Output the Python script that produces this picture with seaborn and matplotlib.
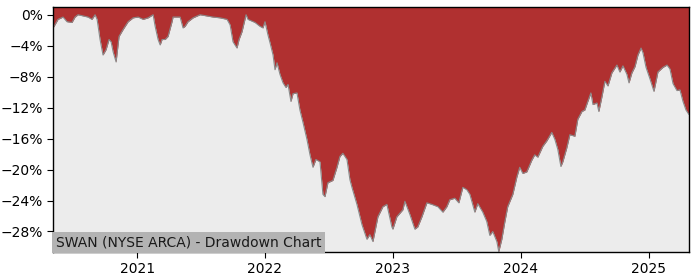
import numpy as np
import pandas as pd
import matplotlib
matplotlib.use("Agg")
import matplotlib.pyplot as plt
import matplotlib.ticker as mticker
import seaborn as sns

title = "SWAN (NYSE ARCA) - Drawdown Chart"

# decimal-year time stamps
year_frac = [
    2020.344, 2020.359, 2020.383, 2020.422, 2020.453, 2020.492, 2020.516, 2020.539,
    2020.617, 2020.648, 2020.672, 2020.688, 2020.711, 2020.734, 2020.758, 2020.781,
    2020.797, 2020.813, 2020.836, 2020.859, 2020.891, 2020.930, 2020.969, 2021.008,
    2021.047, 2021.086, 2021.125, 2021.141, 2021.164, 2021.180, 2021.195, 2021.219,
    2021.242, 2021.273, 2021.281, 2021.336, 2021.359, 2021.375, 2021.398, 2021.438,
    2021.492, 2021.594, 2021.648, 2021.703, 2021.727, 2021.750, 2021.781, 2021.797,
    2021.820, 2021.852, 2021.867, 2021.922, 2021.961, 2021.984, 2022.000, 2022.023,
    2022.039, 2022.063, 2022.078, 2022.094, 2022.117, 2022.141, 2022.164, 2022.180,
    2022.203, 2022.219, 2022.250, 2022.273, 2022.297, 2022.328, 2022.352, 2022.375,
    2022.398, 2022.430, 2022.453, 2022.469, 2022.492, 2022.531, 2022.563, 2022.586,
    2022.609, 2022.641, 2022.664, 2022.680, 2022.719, 2022.758, 2022.797, 2022.820,
    2022.844, 2022.883, 2022.922, 2022.953, 2022.992, 2023.000, 2023.031, 2023.078,
    2023.094, 2023.133, 2023.172, 2023.195, 2023.227, 2023.266, 2023.305, 2023.352,
    2023.391, 2023.422, 2023.445, 2023.484, 2023.516, 2023.547, 2023.578, 2023.602,
    2023.641, 2023.664, 2023.703, 2023.734, 2023.758, 2023.781, 2023.813, 2023.828,
    2023.852, 2023.875, 2023.898, 2023.938, 2023.969, 2023.992, 2024.016, 2024.047,
    2024.086, 2024.109, 2024.133, 2024.172, 2024.203, 2024.242, 2024.266, 2024.289,
    2024.313, 2024.328, 2024.359, 2024.383, 2024.422, 2024.445, 2024.477, 2024.500,
    2024.523, 2024.547, 2024.563, 2024.594, 2024.609, 2024.633, 2024.656, 2024.680,
    2024.711, 2024.750, 2024.773, 2024.797, 2024.828, 2024.844, 2024.867, 2024.891,
    2024.914, 2024.938, 2024.953, 2024.977, 2025.008, 2025.039, 2025.070, 2025.109,
    2025.141, 2025.164, 2025.188, 2025.219, 2025.242, 2025.266, 2025.289, 2025.313,
]

# drawdown in percent
drawdown = [
    -1.7, -1.3, -0.6, -0.3, -0.9, -1.0, -0.3, 0.0,
    -0.3, -0.6, 0.0, -0.6, -3.2, -5.2, -4.5, -3.2,
    -3.5, -4.8, -6.1, -2.8, -1.9, -0.9, -0.4, -0.3,
    -0.6, -0.4, 0.0, -1.5, -3.2, -3.9, -3.2, -3.2,
    -2.8, -0.9, -0.3, -0.3, -1.7, -1.5, -0.9, -0.4,
    0.0, -0.3, -0.4, -0.6, -1.3, -3.5, -4.3, -3.2,
    -2.2, 0.0, -0.6, -1.0, -1.5, -1.7, -0.9, -2.6,
    -3.6, -5.2, -7.1, -6.2, -7.7, -8.8, -9.4, -9.0,
    -11.2, -10.2, -10.1, -12.3, -13.9, -16.1, -18.1, -19.7,
    -18.7, -19.0, -23.2, -23.5, -21.7, -21.4, -19.7, -18.3,
    -17.9, -18.7, -21.3, -22.3, -24.5, -27.1, -29.0, -28.4,
    -29.3, -26.1, -24.8, -24.5, -27.4, -27.7, -26.1, -25.2,
    -24.1, -25.8, -27.7, -27.4, -26.1, -24.3, -24.5, -24.8,
    -25.5, -24.8, -23.9, -23.7, -24.3, -22.3, -22.6, -23.2,
    -25.5, -24.4, -25.5, -26.7, -28.5, -28.0, -29.3, -30.6,
    -29.0, -26.8, -24.8, -23.2, -21.0, -19.7, -20.5, -20.3,
    -18.8, -18.1, -18.4, -17.0, -16.3, -15.2, -16.1, -17.4,
    -19.6, -19.0, -17.2, -15.5, -15.7, -13.5, -12.5, -12.3,
    -11.2, -10.1, -11.6, -11.4, -12.5, -10.6, -8.6, -9.2,
    -7.5, -6.5, -7.4, -6.6, -7.7, -8.8, -7.5, -6.7,
    -5.2, -4.3, -4.9, -6.8, -8.3, -9.9, -7.4, -6.8,
    -6.5, -7.0, -8.9, -9.8, -9.7, -11.2, -12.3, -12.9,
]

yticks = [0, -4, -8, -12, -16, -20, -24, -28]
xtick_years = [2021, 2022, 2023, 2024, 2025]

def to_date(y):
    base = pd.Timestamp(int(np.floor(y)), 1, 1)
    nxt = pd.Timestamp(int(np.floor(y)) + 1, 1, 1)
    return base + (nxt - base) * (y - np.floor(y))

df = pd.DataFrame({
    "date": [to_date(v) for v in year_frac],
    "dd": drawdown,
})

sns.set_style("ticks")
plt.rcParams["font.family"] = ["DejaVu Sans"]

fig = plt.figure(figsize=(7, 2.8), dpi=100)
ax = fig.add_axes([53 / 700, 28 / 280, 636 / 700, 245 / 280])
ax.set_facecolor("#ececec")

ytop = 1.0
ax.fill_between(df["date"], df["dd"], ytop, color="#b03030", linewidth=0)
sns.lineplot(data=df, x="date", y="dd", ax=ax, color="#8a8a8a", linewidth=0.8)

ax.set_xlim(to_date(2020.344), to_date(2025.313))
ax.set_ylim(-30.65, ytop)
ax.set_yticks(yticks)
ax.yaxis.set_major_formatter(
    mticker.FuncFormatter(lambda v, p: f"{v:.0f}%".replace("-", "\u2212")))
ax.set_xticks([pd.Timestamp(y, 1, 1) for y in xtick_years])
ax.set_xticklabels([str(y) for y in xtick_years])
ax.set_xlabel("")
ax.set_ylabel("")
ax.tick_params(labelsize=10, colors="black", length=4)
for s in ax.spines.values():
    s.set_visible(True)
    s.set_color("black")
    s.set_linewidth(1.0)

ax.text(0.004, 0.012, title, transform=ax.transAxes, fontsize=10,
        color="#1a1a1a", ha="left", va="bottom",
        bbox=dict(facecolor="#b3b3b3", edgecolor="none", pad=2.5))

fig.savefig("out.png", dpi=100)
